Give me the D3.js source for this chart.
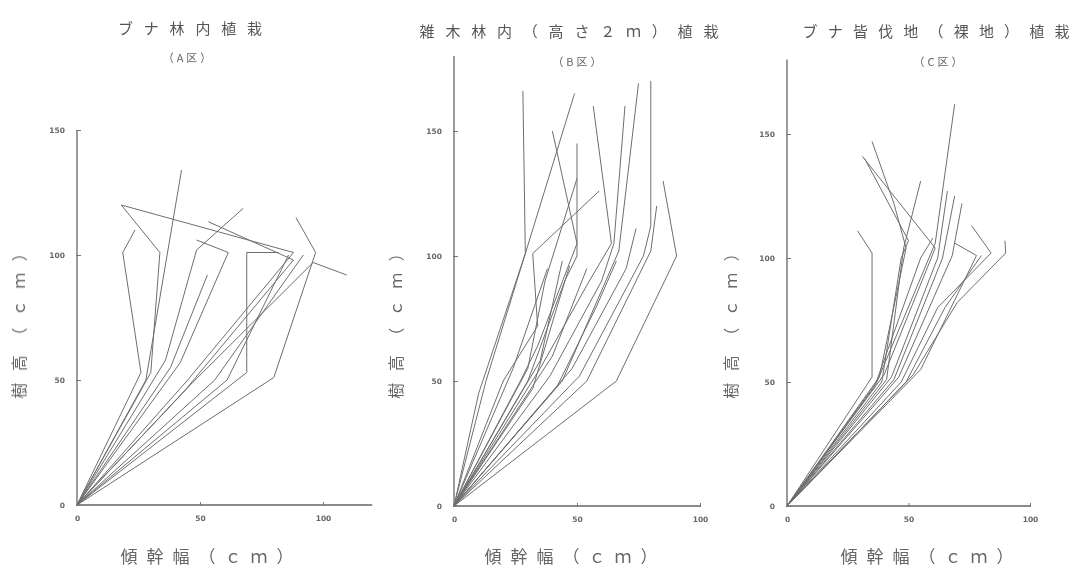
<!DOCTYPE html>
<html>
<head>
<meta charset="utf-8">
<script src="https://cdn.jsdelivr.net/npm/d3@7"></script>
<style>
  body { margin: 0; background: #fff; }
  svg { display: block; }
  text { font-family: "Noto Sans CJK JP", "Noto Sans", sans-serif; }
</style>
</head>
<body>
<svg id="chart" width="1080" height="574"></svg>
<script>
'use strict';

// panel titles and labels
var titles = ['ブナ林内植栽', '雑木林内（高さ２ｍ）植栽', 'ブナ皆伐地（裸地）植栽'];
var subtitles = ['（A区）', '（B区）', '（C区）'];
var xLabel = '傾幹幅（ｃｍ）';
var yLabel = '樹高（ｃｍ）';
var xTicks = [0, 50, 100];
var yTicks = [0, 50, 100, 150];

var treesA = [
  [[0,0],[26,53],[18.6,101],[23.6,110]],
  [[0,0],[30,53],[33.7,101],[18,120],[88,101]],
  [[0,0],[28,50],[42.5,134]],
  [[0,0],[38,55],[53,92]],
  [[0,0],[36,58],[48.6,102],[67.6,118.7]],
  [[0,0],[42,57],[61.5,101],[48.6,106]],
  [[0,0],[69,53],[69,101],[82,101]],
  [[0,0],[80,51],[97,101],[89,115]],
  [[0,0],[45,50],[88,101]],
  [[0,0],[47,49],[96,97],[109.6,92]],
  [[0,0],[44,46],[88,98],[53.4,113.3]],
  [[0,0],[56,50],[92,100]],
  [[0,0],[61,50],[86,100]]
];

var treesB = [
  [[0,0],[10,45],[29,101],[28,166]],
  [[0,0],[13,50],[29,101],[49,165]],
  [[0,0],[27,50],[34,64],[50,105],[40,150]],
  [[0,0],[30,50],[45,90],[50,100],[50,145]],
  [[0,0],[35,55],[55,90],[64,105],[56.6,160]],
  [[0,0],[39,52],[60,90],[65,105],[69.5,160]],
  [[0,0],[44,50],[67,102],[75,169]],
  [[0,0],[51,52],[77,100],[80,112],[80,170]],
  [[0,0],[66,50],[90.5,100],[85,130]],
  [[0,0],[54,50],[80,102],[82.4,120]],
  [[0,0],[20,50],[34,72],[32,101],[59,126]],
  [[0,0],[30,55],[37,90],[50,131]],
  [[0,0],[24,55],[38,95]],
  [[0,0],[35,58],[44,98]],
  [[0,0],[40,60],[54,95]],
  [[0,0],[48,55],[70,95],[74,111]],
  [[0,0],[32,47],[42,80],[47,96]],
  [[0,0],[42,48],[58,80],[66,98]]
];

var treesC = [
  [[0,0],[35,52],[35,102],[29,111]],
  [[0,0],[37,50],[61,106],[69,162]],
  [[0,0],[38,52],[49,104],[44,122],[35,147]],
  [[0,0],[39,50],[47,100],[50,107],[32,140]],
  [[0,0],[40,53],[61,104],[31,141]],
  [[0,0],[41,51],[48,104],[55,131]],
  [[0,0],[43,52],[62,100],[66,127]],
  [[0,0],[44,51],[64,100],[69,125]],
  [[0,0],[46,52],[68,101],[72,122]],
  [[0,0],[47,50],[62,80],[84,102],[76,113]],
  [[0,0],[52,53],[70,82],[90,102],[89.7,107]],
  [[0,0],[55,55],[78,101],[69,106]],
  [[0,0],[49,50],[65,80],[80,101]],
  [[0,0],[36,48],[55,100],[60,108]]
];

var allTrees = [treesA, treesB, treesC];

// where each panel sits on the page
var panels = [
  {x0: 77,  x100: 323,  y0: 505, y150: 130, xMax: 120, yMax: 150, tx: 190, sx: 187, ylx: 19,  xlx: 207, gap: 10.8},
  {x0: 454, x100: 700,  y0: 506, y150: 131, xMax: 100, yMax: 180, tx: 569, sx: 577, ylx: 396, xlx: 571, gap: 10.8},
  {x0: 787, x100: 1030, y0: 506, y150: 134, xMax: 100, yMax: 180, tx: 936, sx: 938, ylx: 731, xlx: 927, gap: 10.2}
];

var subGap = 3, yGap = 11.5, xGap = 9;

var svg = d3.select('#chart');

var defs = svg.append('defs');
defs.append('filter').attr('id', 'scan')
  .append('feGaussianBlur').attr('stdDeviation', 0.45);

var root = svg.append('g').attr('filter', 'url(#scan)');

panels.forEach(function(p, i) {
  var x = d3.scaleLinear().domain([0, 100]).range([p.x0, p.x100]);
  var y = d3.scaleLinear().domain([0, 150]).range([p.y0, p.y150]);
  var g = root.append('g');

  // axis lines
  g.append('line')
    .attr('x1', x(0)).attr('x2', x(p.xMax))
    .attr('y1', y(0)).attr('y2', y(0))
    .attr('stroke', '#666').attr('stroke-width', 1.3);
  g.append('line')
    .attr('x1', x(0)).attr('x2', x(0))
    .attr('y1', y(0)).attr('y2', y(p.yMax))
    .attr('stroke', '#666').attr('stroke-width', 1.3);

  var xAxis = g.append('g')
    .attr('transform', 'translate(0,' + y(0) + ')')
    .call(d3.axisBottom(x).tickValues(xTicks).tickSize(3).tickPadding(8));
  var yAxis = g.append('g')
    .attr('transform', 'translate(' + x(0) + ',0)')
    .call(d3.axisLeft(y).tickValues(yTicks).tickSize(3).tickPadding(9));

  [xAxis, yAxis].forEach(function(a) {
    a.select('.domain').remove();
    a.selectAll('.tick line').attr('stroke', '#777');
    a.selectAll('.tick text')
      .attr('fill', '#666')
      .style('font-size', '7.5px')
      .style('font-weight', 'bold')
      .style('font-family', '"DejaVu Sans", sans-serif');
  });
  xAxis.selectAll('.tick line').attr('y1', -3).attr('y2', 1);
  yAxis.selectAll('.tick line').attr('x1', -1).attr('x2', 4);

  var line = d3.line()
    .x(function(d) { return x(d[0]); })
    .y(function(d) { return y(d[1]); });

  g.append('g').selectAll('path')
    .data(allTrees[i])
    .join('path')
    .attr('d', line)
    .attr('fill', 'none')
    .attr('stroke', '#6e6e6e')
    .attr('stroke-width', 1)
    .attr('stroke-linejoin', 'round');

  // titles (shift by half the gap so the trailing spacing doesn't skew centring)
  g.append('text')
    .attr('x', p.tx + p.gap / 2).attr('y', i === 0 ? 34 : 37)
    .attr('text-anchor', 'middle')
    .attr('fill', '#555')
    .style('font-size', '15px')
    .style('letter-spacing', p.gap + 'px')
    .text(titles[i]);
  g.append('text')
    .attr('x', p.sx + subGap / 2).attr('y', i === 0 ? 62 : 66)
    .attr('text-anchor', 'middle')
    .attr('fill', '#666')
    .style('font-size', '11px')
    .style('letter-spacing', subGap + 'px')
    .text(subtitles[i]);

  // axis titles
  g.append('text')
    .attr('transform', 'translate(' + p.ylx + ',' + (322 - yGap / 2) + ') rotate(-90)')
    .attr('text-anchor', 'middle')
    .attr('dy', '0.35em')
    .attr('fill', '#666')
    .style('font-size', '16px')
    .style('letter-spacing', yGap + 'px')
    .text(yLabel);
  g.append('text')
    .attr('x', p.xlx + xGap / 2).attr('y', 563)
    .attr('text-anchor', 'middle')
    .attr('fill', '#666')
    .style('font-size', '17px')
    .style('letter-spacing', xGap + 'px')
    .text(xLabel);
});
</script>
</body>
</html>
